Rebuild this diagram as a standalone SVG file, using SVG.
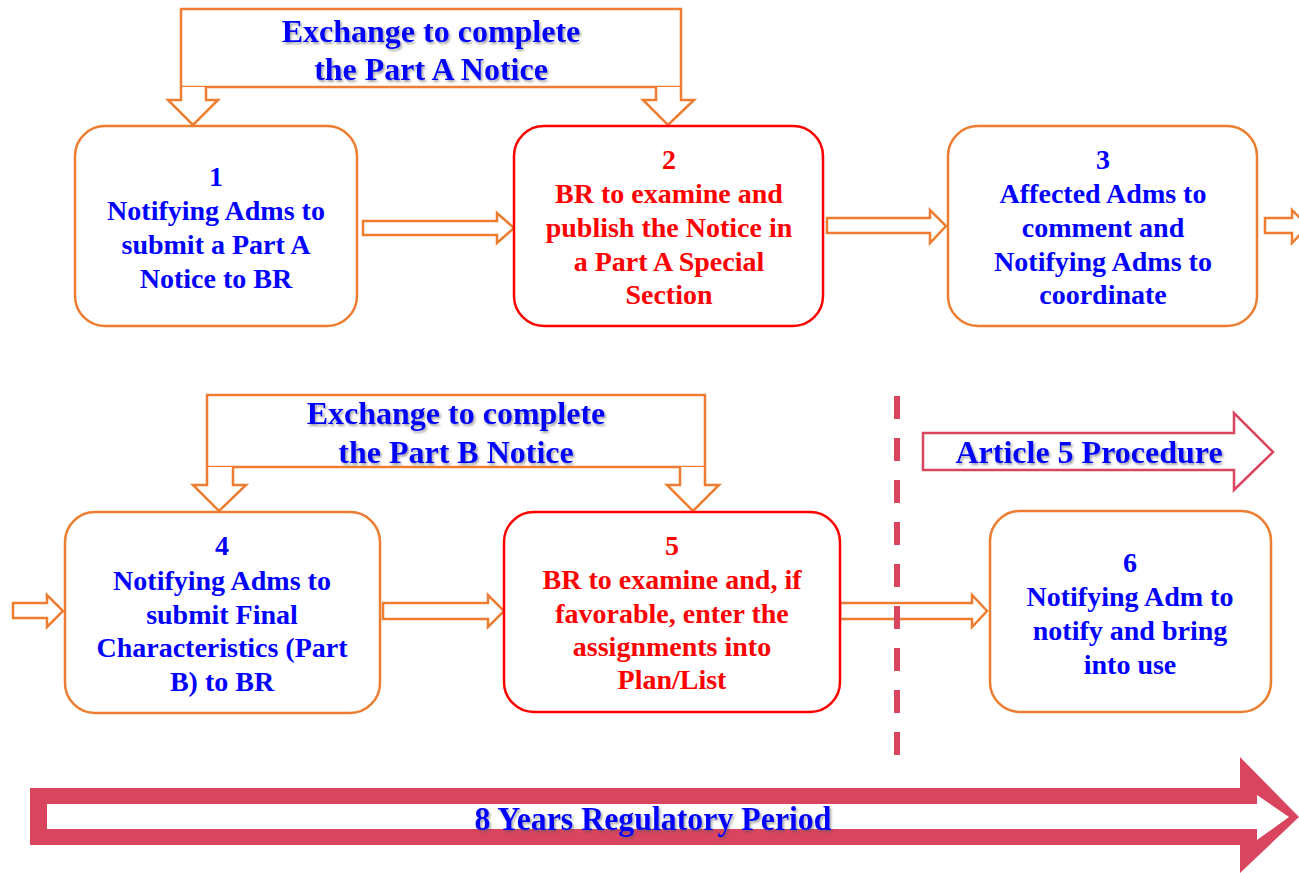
<svg xmlns="http://www.w3.org/2000/svg" width="1299" height="873" viewBox="0 0 1299 873">
<defs>
<filter id="sh" x="-10%" y="-30%" width="120%" height="160%">
<feDropShadow dx="1.5" dy="2" stdDeviation="1.2" flood-color="#555" flood-opacity="0.55"/>
</filter>
</defs>
<style>
.ob{fill:#fff;stroke:#ED7D31;stroke-width:2.5}
.rb{fill:#fff;stroke:#FF0000;stroke-width:2.5}
.ar{fill:#fff;stroke:#ED7D31;stroke-width:2.5;stroke-linejoin:miter}
.t{font-family:"Liberation Serif","Times New Roman",serif;font-weight:bold;font-size:28px;text-anchor:middle}
.blue{fill:#0000FF}
.red{fill:#FF0000}
.h{font-family:"Liberation Serif","Times New Roman",serif;font-weight:bold;font-size:32px;text-anchor:middle;fill:#0000FF;filter:url(#sh)}
</style>
<rect width="1299" height="873" fill="#fff"/>

<g id="exchangeA">
<rect x="181" y="9" width="500" height="78" class="ar"/>
<polyline points="181,87 181,100 168,100 193,125 218,100 206,100 206,87" class="ar"/>
<polyline points="656,87 656,100 643,100 668,125 694,100 681,100 681,87" class="ar"/>
<text class="h" x="431" y="42">Exchange to complete</text>
<text class="h" x="431" y="80">the Part A Notice</text>
</g>

<g id="exchangeB">
<rect x="207" y="395" width="498" height="72" class="ar"/>
<polyline points="207,467 207,485 193,485 219,511 246,485 233,485 233,467" class="ar"/>
<polyline points="680,467 680,485 667,485 693,511 719,485 705,485 705,467" class="ar"/>
<text class="h" x="456" y="424">Exchange to complete</text>
<text class="h" x="456" y="463">the Part B Notice</text>
</g>

<g id="connectors">
<polygon points="363,221 497,221 497,213 514,228 497,243 497,235 363,235" class="ar"/>
<polygon points="827,218 930,218 930,210 946,226 930,243 930,233 827,233" class="ar"/>
<polygon points="1265,218 1292,218 1292,210 1308,226 1292,243 1292,233 1265,233" class="ar"/>
<polygon points="13,603 47,603 47,595 63,611 47,627 47,618 13,618" class="ar"/>
<polygon points="383,603 488,603 488,595 504,611 488,627 488,619 383,619" class="ar"/>
<polygon points="840,603 972,603 972,595 987,611 972,627 972,619 840,619" class="ar"/>
</g>

<g id="divider">
<line x1="897" y1="396" x2="897" y2="756" stroke="#D9455F" stroke-width="6" stroke-dasharray="23 19"/>
</g>

<g id="article5">
<polygon points="923,433 1234,433 1234,413 1273,452 1234,490 1234,470 923,470" fill="#fff" stroke="#D9455F" stroke-width="2.5"/>
<text class="h" x="1089" y="463">Article 5 Procedure</text>
</g>

<g id="node1">
<rect x="75" y="126" width="282" height="200" rx="30" class="ob"/>
<text class="t blue" x="216" y="186">1</text>
<text class="t blue" x="216" y="220">Notifying Adms to</text>
<text class="t blue" x="216" y="254">submit a Part A</text>
<text class="t blue" x="216" y="288">Notice to BR</text>
</g>

<g id="node2">
<rect x="514" y="126" width="309" height="200" rx="30" class="rb"/>
<text class="t red" x="669" y="169">2</text>
<text class="t red" x="669" y="203">BR to examine and</text>
<text class="t red" x="669" y="237">publish the Notice in</text>
<text class="t red" x="669" y="271">a Part A Special</text>
<text class="t red" x="669" y="304">Section</text>
</g>

<g id="node3">
<rect x="948" y="126" width="309" height="200" rx="30" class="ob"/>
<text class="t blue" x="1103" y="169">3</text>
<text class="t blue" x="1103" y="203">Affected Adms to</text>
<text class="t blue" x="1103" y="237">comment and</text>
<text class="t blue" x="1103" y="271">Notifying Adms to</text>
<text class="t blue" x="1103" y="304">coordinate</text>
</g>

<g id="node4">
<rect x="65" y="512" width="315" height="201" rx="30" class="ob"/>
<text class="t blue" x="222" y="555">4</text>
<text class="t blue" x="222" y="590">Notifying Adms to</text>
<text class="t blue" x="222" y="624">submit Final</text>
<text class="t blue" x="222" y="657">Characteristics (Part</text>
<text class="t blue" x="222" y="691">B) to BR</text>
</g>

<g id="node5">
<rect x="504" y="512" width="336" height="200" rx="30" class="rb"/>
<text class="t red" x="672" y="555">5</text>
<text class="t red" x="672" y="589">BR to examine and, if</text>
<text class="t red" x="672" y="623">favorable, enter the</text>
<text class="t red" x="672" y="656">assignments into</text>
<text class="t red" x="672" y="689">Plan/List</text>
</g>

<g id="node6">
<rect x="990" y="511" width="281" height="201" rx="30" class="ob"/>
<text class="t blue" x="1130" y="572">6</text>
<text class="t blue" x="1130" y="606">Notifying Adm to</text>
<text class="t blue" x="1130" y="640">notify and bring</text>
<text class="t blue" x="1130" y="674">into use</text>
</g>

<g id="period">
<polygon points="30,788 1240,788 1240,757 1299,817 1240,873 1240,845 30,845" fill="#D9455F"/>
<polygon points="47,804 1257,804 1257,795 1289,817 1257,840 1257,829 47,829" fill="#fff"/>
<text class="h" x="653" y="830" style="font-size:33px" textLength="357" lengthAdjust="spacingAndGlyphs">8 Years Regulatory Period</text>
</g>
</svg>
